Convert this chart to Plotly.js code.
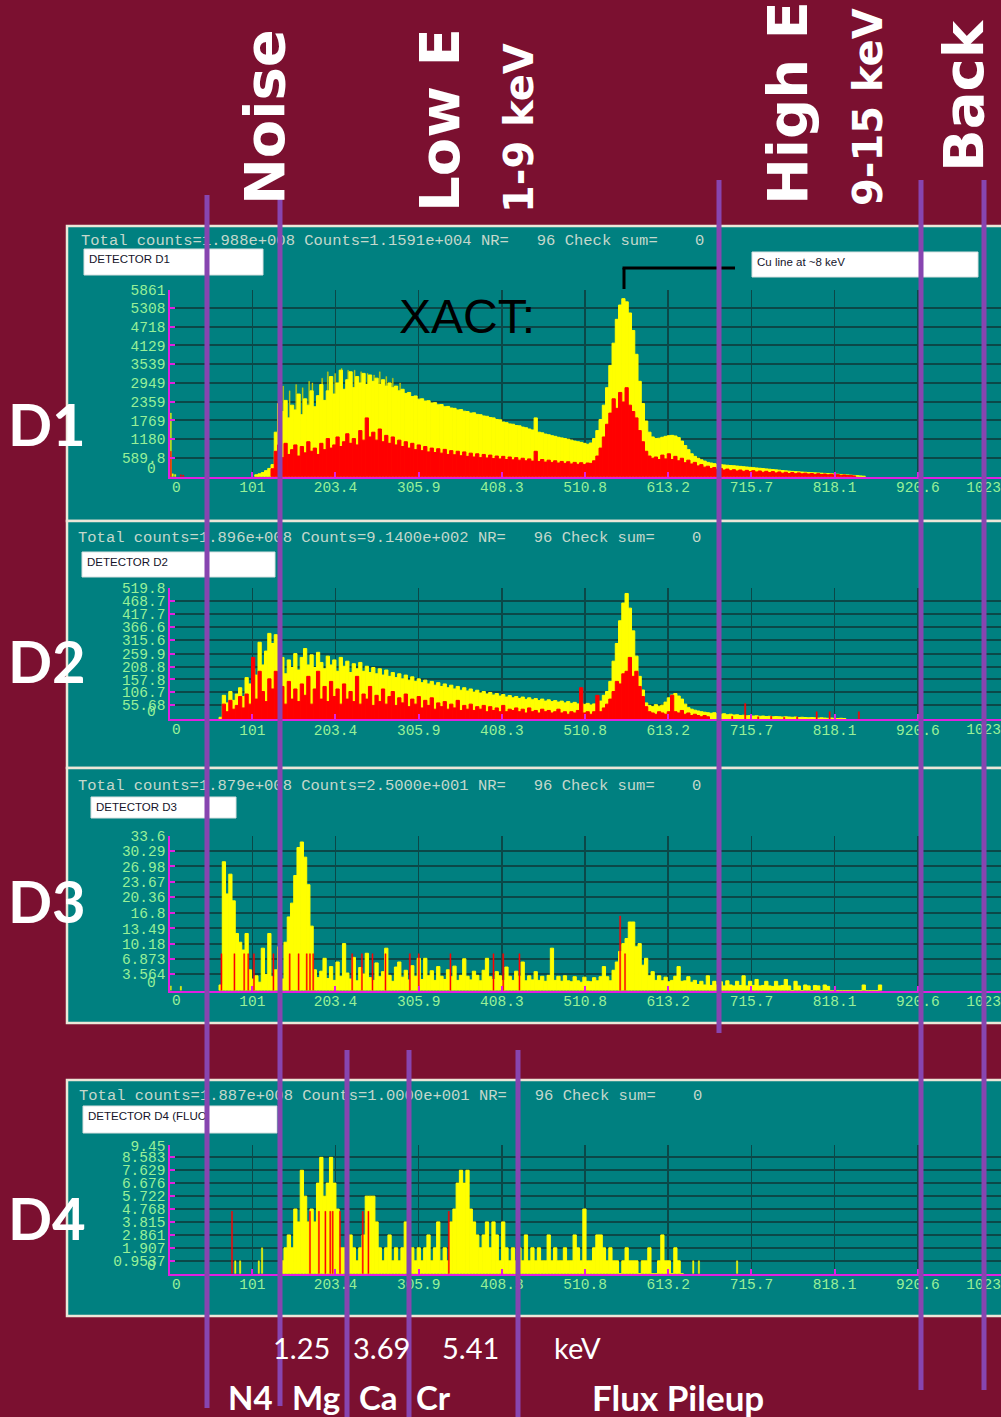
<!DOCTYPE html>
<html>
<head>
<meta charset="utf-8">
<script src="https://cdn.plot.ly/plotly-3.0.1.min.js"></script>
<style>
  html, body { margin: 0; padding: 0; background: #7b1030; }
  #chart { width: 1001px; height: 1417px; }
</style>
</head>
<body>
<div id="chart"></div>
<script>
// ---------------- Spectrum data (counts per channel bin) ----------------
const BIN = 4; // channels per histogram bin

// Detector D1
const d1YellowStart = 104;
const d1Yellow = [60,90,130,190,260,380,1400,2300,2050,2400,1850,2250,2100,2600,1950,2450,2250,2700,2200,2550,
  2900,2400,2700,3150,2600,2950,3350,2750,3050,3300,2800,3150,2950,3250,2900,3200,3000,3100,2900,3050,
  2850,2950,2800,2850,2700,2750,2620,2650,2520,2540,2440,2450,2380,2390,2320,2330,2260,2270,2200,2210,
  2160,2150,2100,2110,2060,2050,2000,2010,1960,1950,1910,1900,1860,1850,1800,1790,1720,1700,1660,1650,
  1610,1600,1560,1540,1500,1470,1850,1400,1380,1340,1320,1290,1270,1240,1220,1200,1180,1150,1120,1100,
  1080,1050,1020,1060,1200,1450,1800,2250,2800,3500,4200,4950,5400,5600,5500,5150,4600,3850,3000,2300,
  1750,1400,1250,1200,1210,1240,1270,1290,1300,1280,1230,1120,980,850,720,640,580,530,490,450,
  430,410,390,380,370,360,350,345,335,325,315,305,295,285,275,265,255,245,235,225,
  215,205,195,185,175,168,160,152,146,140,134,128,122,116,110,104,98,92,86,78,
  70,62,55,48,40,32,24,16];
// single-channel spikes standing above the binned envelope
const d1SpikeCh = [139, 147, 155, 163, 171, 175, 187, 194, 203, 211, 219, 227, 235, 243, 251, 258, 266, 274, 283];
const d1SpikeVal = [2850, 2700, 2900, 2800, 3000, 2950, 3100, 3300, 3250, 3400, 3350, 3350, 3300, 3250, 3200, 3300, 3150, 3100, 2950];
const d1RedStart = 124;
const d1Red = [250,800,1000,600,1050,700,850,1000,650,950,750,1100,800,900,700,1050,850,1200,900,1000,
  1250,950,1100,1350,1050,1200,1000,1450,1150,1850,1250,1400,1150,1500,1100,1300,1050,1250,1000,1150,
  950,1100,900,1050,850,1000,820,950,780,900,760,880,740,860,700,820,690,800,660,780,
  640,740,620,720,600,700,590,680,570,650,560,640,540,620,530,600,520,580,500,560,
  490,800,480,540,460,520,450,500,430,480,420,470,400,450,390,440,380,430,420,500,
  650,900,1250,1650,2000,2450,2150,2650,2350,2800,2250,2050,1850,1450,1100,800,650,580,620,540,
  680,560,720,540,640,500,580,440,520,400,450,340,380,300,330,260,290,230,260,210,
  240,190,220,180,210,170,200,160,190,150,180,140,170,130,160,120,150,110,140,100,
  130,95,120,90,110,85,100,75,95,70,85,60,75,55,65,45,55,35,40,25];
const d1YellowLowCh = [0.5, 3, 6];
const d1YellowLowVal = [2000, 90, 70];
const d1RedLowCh = [0.5, 13, 16];
const d1RedLowVal = [800, 60, 50];

// Detector D2
const d2YellowStart = 60;
const d2Yellow = [8,95,65,110,75,100,125,90,165,140,200,175,305,215,270,340,300,335,200,245,
  180,235,205,260,195,245,280,215,255,205,265,225,200,250,215,235,190,245,210,230,
  185,220,200,225,190,210,185,205,180,200,175,195,170,185,165,180,160,175,155,168,
  150,160,145,155,140,150,135,145,130,140,125,135,120,130,115,125,112,120,108,115,
  104,110,100,106,96,102,92,98,88,94,85,90,82,88,79,85,77,82,74,80,
  72,77,70,74,68,72,65,70,63,67,61,65,59,63,57,61,58,72,95,110,
  150,230,300,390,460,498,440,350,250,170,116,65,55,50,58,52,56,68,85,96,
  102,92,80,60,46,40,36,33,30,28,26,24,26,22,20,22,18,20,17,18,
  15,16,14,15,13,14,12,13,11,12,10,11,10,9,10,9,8,9,7,8,
  7,6,7,6,5,6,5,4,5,4,3,4,3];
const d2RedStart = 64;
const d2Red = [60,30,75,40,55,90,45,100,60,245,80,190,110,70,160,120,190,90,130,60,
  150,80,120,70,140,95,170,60,120,190,80,130,70,150,90,120,60,140,80,110,
  70,170,60,100,80,130,55,95,70,120,60,90,110,55,85,65,100,50,80,60,
  90,45,75,55,85,40,65,50,70,40,60,45,75,35,55,40,60,35,50,40,
  55,30,50,35,45,30,55,30,40,35,45,30,40,25,45,30,35,25,40,30,
  35,25,30,40,25,30,20,30,25,35,125,25,30,20,30,95,30,45,60,80,
  110,150,140,180,190,245,170,190,130,90,50,30,25,20,30,25,20,30,95,30,
  25,35,20,25,15,20,15,10,15,10];
const d2RedSparseCh = [676, 692, 708, 724, 740, 756, 772, 796, 812, 848];
const d2RedSparseVal = [15, 12, 63, 10, 12, 8, 10, 30, 30, 30];

// Detector D3
const d3YellowStart = 60;
const d3Yellow = [1.2,28,21,25.3,19.5,12.4,10.5,8.8,12.4,4.5,2.5,3.2,1.8,9.2,3.5,12.4,3,4.5,9.5,2.5,
  10.5,16,19,25,31.1,32.3,29,23,14,4.5,2.8,4.2,7,2.6,5.2,2.2,6.2,3.1,10.2,3.8,
  2.5,7.2,2.1,5,3.6,8.1,2.8,2.2,6,3,4.1,9.2,3.3,2,5.1,6.2,2.9,4.4,2.3,5.4,
  3.1,7,2.4,7,3.2,4.3,2.2,5.2,3.1,2.4,4.5,3,5.3,2.2,3.3,6.9,3.1,2.3,4.2,3.3,
  2.1,4.4,7,3,2.4,4.1,3.2,2.2,5.1,3.1,2.2,4.2,3.1,6.2,2.1,3.2,2.3,4.1,2.2,3.1,
  2,3.3,9.2,2.2,3.1,2,3.2,2.1,1.9,3,2.1,1.8,2.9,2,1.9,2.8,2.1,3,5.2,3,
  2.1,4.4,6.2,8.5,10.2,11.3,14.9,14.9,9.5,10.2,5.5,7,3.2,4.1,2.2,3.2,2.1,2.9,1.9,2.2,
  3.1,5.2,2,2.1,3,1.8,2.2,1.3,2,1.2,3.2,1.1,2,1.2,1.9,1,2.1,1.2,1,2,
  1.1,3.2,1,2,1.1,2.4,1,1.1,2,1,0.9,2,1,1.1,2.4,1,0,2,1,0,
  1.2,1,0,1.1,1,0,1.2,0.9,0,0,0,0,0,0,0,0,0,0,1.2,0,
  0,0,0,1.2];
const d3YellowSparseCh = [0.5, 13];
const d3YellowSparseVal = [1.0, 0.9];
const d3RedCh = [63,79,91,96,103,127,147,158,168,172,176,224,236,249,265,295,306,345,398,410,430,554,560];
const d3RedVal = [8,8,8,8,8,8,8,8,8,8,8,8,8,8,8,8,8,8,8,8,8,16.2,8];

// Detector D4 (fluorescence)
const d4YellowStart = 136;
const d4Yellow = [0.95,1.91,2.86,1.91,4.77,3.82,7.63,5.72,3.82,4.77,3.82,6.68,8.58,5.72,6.68,8.58,6.68,4.77,1.91,1.91,
  0.95,2.86,1.91,0.95,1.91,2.86,5.72,5.72,5.72,3.82,1.91,0.95,1.91,2.86,0.95,1.91,0.95,1.91,3.82,0.95,
  1.91,0.95,1.91,0.95,1.91,2.86,0.95,1.91,3.82,0.95,1.91,0.95,3.82,4.77,6.68,7.63,6.68,7.63,4.77,3.82,
  2.86,1.91,2.86,3.82,1.91,3.82,2.86,0.95,3.82,1.91,0.95,1.91,0.95,1.91,0.95,2.86,0.95,1.91,0.95,1.91,
  0.95,0.95,2.86,0.95,1.91,0.95,0.95,1.91,0.95,0.95,2.86,1.91,0.95,4.77,0.95,0.95,1.91,2.86,2.86,1.91,
  0.95,1.91,0.95,0.95,0,0.95,1.91,0.95,0.95,0.95,0,0.95,0.95,1.91,0,0,0.95,2.86,0.95,0.95,
  0,1.91,0.95,0];
const d4YellowSparseCh = [80, 86, 109, 113, 644, 651, 698];
const d4YellowSparseVal = [0.95, 0.95, 0.95, 1.91, 0.95, 0.95, 0.95];
const d4RedCh = [76, 172, 183, 191, 197, 200, 209, 237, 244, 343];
const d4RedVal = [4.6, 4.6, 4.6, 4.6, 4.6, 4.6, 4.6, 4.6, 4.6, 4.6];

// ---------------- Axis labels and texts ----------------
const xTicks = [0, 101, 203.4, 305.9, 408.3, 510.8, 613.2, 715.7, 818.1, 920.6, 1023];
const d1YTicks = [589.8, 1180, 1769, 2359, 2949, 3539, 4129, 4718, 5308, 5861];
const d2YTicks = [55.68, 106.7, 157.8, 208.8, 259.9, 315.6, 366.6, 417.7, 468.7, 519.8];
const d3YTicks = [3.564, 6.873, 10.18, 13.49, 16.8, 20.36, 23.67, 26.98, 30.29, 33.6];
const d4YTicks = [0.9537, 1.907, 2.861, 3.815, 4.768, 5.722, 6.676, 7.629, 8.583, 9.45];

const headers = [
  "Total counts=1.988e+008 Counts=1.1591e+004 NR=   96 Check sum=    0",
  "Total counts=1.896e+008 Counts=9.1400e+002 NR=   96 Check sum=    0",
  "Total counts=1.879e+008 Counts=2.5000e+001 NR=   96 Check sum=    0",
  "Total counts=1.887e+008 Counts=1.0000e+001 NR=   96 Check sum=    0"
];
const detectorNames = ["DETECTOR D1", "DETECTOR D2", "DETECTOR D3", "DETECTOR D4 (FLUO"];
const panelNames = ["D1", "D2", "D3", "D4"];

// ---------------- Geometry helpers ----------------
const W = 1001, H = 1417;
const px = v => v / W;
const py = v => 1 - v / H;

const MAROON = '#7b1030', TEAL = '#008080', CREAM = '#ece6d8';
const GRID = '#0b4848', AXIS = '#e020e0', TICKTXT = '#98f098';
const HEADTXT = '#c4d8cc', PURPLE = '#8745b0';
const YELLOW = '#ffff00', RED = '#ff0000', OLIVE = '#d4d400';
const MONO = 'Liberation Mono, Courier New, monospace';

function centers(start, n) {
  const a = [];
  for (let i = 0; i < n; i++) a.push(start + BIN * i + BIN / 2);
  return a;
}

function barTrace(x, y, color, width, k, edge) {
  return {
    type: 'bar', x: x, y: y, width: width,
    xaxis: 'x' + (k === 1 ? '' : k), yaxis: 'y' + (k === 1 ? '' : k),
    marker: { color: color, line: { color: color, width: edge } },
    hoverinfo: 'skip', showlegend: false
  };
}

const traces = [
  barTrace(d1SpikeCh, d1SpikeVal, OLIVE, 1.2, 1, 0.3),
  barTrace(centers(d1YellowStart, d1Yellow.length), d1Yellow, YELLOW, BIN, 1, 1),
  barTrace(d1YellowLowCh, d1YellowLowVal, YELLOW, 1.5, 1, 0.4),
  barTrace(centers(d1RedStart, d1Red.length), d1Red, RED, BIN, 1, 1),
  barTrace(d1RedLowCh, d1RedLowVal, RED, 1.5, 1, 0.4),

  barTrace(centers(d2YellowStart, d2Yellow.length), d2Yellow, YELLOW, BIN, 2, 1),
  barTrace(centers(d2RedStart, d2Red.length), d2Red, RED, BIN, 2, 1),
  barTrace(d2RedSparseCh, d2RedSparseVal, RED, 1.6, 2, 0.4),

  barTrace(centers(d3YellowStart, d3Yellow.length), d3Yellow, YELLOW, BIN, 3, 1),
  barTrace(d3YellowSparseCh, d3YellowSparseVal, YELLOW, 1.5, 3, 0.4),
  barTrace(d3RedCh, d3RedVal, RED, 1.4, 3, 0.4),

  barTrace(centers(d4YellowStart, d4Yellow.length), d4Yellow, YELLOW, BIN, 4, 1),
  barTrace(d4YellowSparseCh, d4YellowSparseVal, YELLOW, 1.6, 4, 0.4),
  barTrace(d4RedCh, d4RedVal, RED, 1.4, 4, 0.4)
];

// plot areas in pixels (top / bottom of the y range) and panel boxes
const plots = [
  { top: 290,    bottom: 476.7,  ymax: 5861,  ticks: d1YTicks, box: [226, 521],  head: 240,  hx: 78,
    det: [84, 249, 263, 275], label: 423 },
  { top: 587.7,  bottom: 719.3,  ymax: 519.8, ticks: d2YTicks, box: [521, 768],  head: 537,  hx: 75,
    det: [82, 552, 275, 577], label: 660 },
  { top: 835.7,  bottom: 990.5,  ymax: 33.6,  ticks: d3YTicks, box: [768, 1023], head: 785,  hx: 75,
    det: [91, 797, 236, 818], label: 900 },
  { top: 1145.3, bottom: 1273.7, ymax: 9.45,  ticks: d4YTicks, box: [1080, 1316], head: 1095, hx: 76,
    det: [83, 1106, 277, 1133], label: 1217 }
];

const layout = {
  width: W, height: H, autosize: false,
  margin: { l: 0, r: 0, t: 0, b: 0, pad: 0 },
  paper_bgcolor: MAROON, plot_bgcolor: TEAL,
  barmode: 'overlay', bargap: 0, showlegend: false,
  shapes: [], annotations: []
};

const xTickText = xTicks.map((v, i) => (i === 0 || i === xTicks.length - 1) ? '' : String(v));
const nb = s => s.replace(/ /g, '\u00a0');

plots.forEach((p, i) => {
  const k = i + 1, s = k === 1 ? '' : String(k);
  layout['xaxis' + s] = {
    domain: [px(170.3), 1], range: [0, 1023], anchor: 'y' + s,
    tickmode: 'array', tickvals: xTicks, ticktext: xTickText,
    ticks: 'inside', ticklen: 5, tickwidth: 2, tickcolor: AXIS,
    ticklabelstandoff: -4,
    showline: true, linecolor: AXIS, linewidth: 2,
    showgrid: true, gridcolor: GRID, gridwidth: 1.5, zeroline: false,
    tickfont: { family: MONO, size: 14.5, color: TICKTXT },
    fixedrange: true
  };
  layout['yaxis' + s] = {
    domain: [py(p.bottom), py(p.top)], range: [0, p.ymax * 1.002], anchor: 'x' + s,
    tickmode: 'array', tickvals: p.ticks, ticktext: p.ticks.map(String),
    ticks: 'inside', ticklen: 5, tickwidth: 2, tickcolor: AXIS,
    showline: true, linecolor: AXIS, linewidth: 2,
    showgrid: true, gridcolor: GRID, gridwidth: 2, zeroline: false,
    tickfont: { family: MONO, size: 14.5, color: TICKTXT },
    fixedrange: true
  };

  // teal panel
  layout.shapes.push({
    type: 'rect', xref: 'paper', yref: 'paper', layer: 'below',
    x0: px(67), x1: px(1003), y0: py(p.box[1]), y1: py(p.box[0]),
    fillcolor: TEAL, line: { color: CREAM, width: 2.5 }
  });
  // header line
  layout.shapes.push({
    type: 'rect', xref: 'paper', yref: 'paper', layer: 'below',
    x0: px(p.hx), x1: px(720), y0: py(p.head + 7), y1: py(p.head - 11),
    fillcolor: 'rgba(0,0,0,0)', line: { width: 0 },
    label: { text: nb(headers[i]), textposition: 'middle left', padding: 0,
             font: { family: MONO, size: 15.5, color: HEADTXT } }
  });
  // detector name box
  layout.shapes.push({
    type: 'rect', xref: 'paper', yref: 'paper', layer: 'below',
    x0: px(p.det[0]), x1: px(p.det[2]), y0: py(p.det[3]), y1: py(p.det[1]),
    fillcolor: '#ffffff', line: { color: '#d8e0e0', width: 1 },
    label: { text: detectorNames[i], textposition: 'top left', padding: 2,
             font: { family: 'Liberation Sans, Arial, sans-serif', size: 11.5, color: '#14142a' } }
  });
  // right-hand end label of the channel axis
  layout.shapes.push({
    type: 'rect', xref: 'paper', yref: 'paper', layer: 'below',
    x0: px(960), x1: px(1004), y0: py(p.bottom + 16), y1: py(p.bottom + 1),
    fillcolor: 'rgba(0,0,0,0)', line: { width: 0 },
    label: { text: '1023', textposition: 'middle right', padding: 0,
             font: { family: MONO, size: 14.5, color: TICKTXT } }
  });
  // "0" labels of both axes
  layout.annotations.push({
    xref: 'x' + s, yref: 'paper', x: 0, y: py(p.bottom + 1), xanchor: 'left', yanchor: 'top',
    xshift: 0, text: '0', showarrow: false,
    font: { family: MONO, size: 14.5, color: TICKTXT }
  });
  layout.annotations.push({
    xref: 'paper', yref: 'paper', x: px(158), y: py(p.bottom - 7.5), xanchor: 'right', yanchor: 'middle',
    text: '0', showarrow: false,
    font: { family: MONO, size: 14.5, color: TICKTXT }
  });
  // detector tag on the left
  layout.annotations.push({
    xref: 'paper', yref: 'paper', x: px(47), y: py(p.label), xanchor: 'center', yanchor: 'middle',
    text: '<b>' + panelNames[i] + '</b>', showarrow: false,
    font: { family: 'Lato, Open Sans, sans-serif', size: 58, color: '#ffffff' }
  });
});

// Cu line box and its pointer
layout.shapes.push({
  type: 'rect', xref: 'paper', yref: 'paper', layer: 'below',
  x0: px(752), x1: px(978), y0: py(277), y1: py(252),
  fillcolor: '#ffffff', line: { color: '#d8e0e0', width: 1 },
  label: { text: 'Cu line at ~8 keV', textposition: 'top left', padding: 2,
           font: { family: 'Liberation Sans, Arial, sans-serif', size: 11.5, color: '#14142a' } }
});
layout.shapes.push({ type: 'line', xref: 'paper', yref: 'paper', layer: 'above',
  x0: px(624), x1: px(624), y0: py(289), y1: py(268), line: { color: '#000000', width: 3 } });
layout.shapes.push({ type: 'line', xref: 'paper', yref: 'paper', layer: 'above',
  x0: px(622.5), x1: px(735), y0: py(268), y1: py(268), line: { color: '#000000', width: 3 } });

// purple region markers
const markers = [
  [207, 195, 1408], [280, 197, 1406], [347, 1050, 1417], [409, 1050, 1417],
  [518, 1050, 1417], [719, 180, 1033], [921, 180, 1390], [984, 180, 1390]
];
markers.forEach(m => layout.shapes.push({
  type: 'line', xref: 'paper', yref: 'paper', layer: 'above',
  x0: px(m[0]), x1: px(m[0]), y0: py(m[2]), y1: py(m[1]),
  line: { color: PURPLE, width: 5 }
}));

// region titles
const vert = (t, x, y, size) => ({
  xref: 'paper', yref: 'paper', x: px(x), y: py(y), xanchor: 'center', yanchor: 'middle',
  text: '<b>' + t + '</b>', textangle: -90, showarrow: false,
  font: { family: 'DejaVu Sans, Verdana, sans-serif', size: size, color: '#ffffff' }
});
layout.annotations.push(vert('Noise', 265, 117, 56));
layout.annotations.push(vert('Low E', 439, 120, 56));
layout.annotations.push(vert('1-9 keV', 519, 128, 40));
layout.annotations.push(vert('High E', 787, 103, 56));
layout.annotations.push(vert('9-15 keV', 868, 107, 40));
layout.annotations.push(vert('Back', 963, 96, 56));

layout.annotations.push({
  xref: 'paper', yref: 'paper', x: px(467), y: py(316), xanchor: 'center', yanchor: 'middle',
  text: 'XACT:', showarrow: false,
  font: { family: 'Liberation Sans, Arial, sans-serif', size: 48, color: '#000000' }
});

// energy scale and element names along the bottom
const bottomText = (t, x, y, size, bold) => ({
  xref: 'paper', yref: 'paper', x: px(x), y: py(y), xanchor: 'center', yanchor: 'middle',
  text: bold ? '<b>' + t + '</b>' : t, showarrow: false,
  font: { family: 'Lato, Open Sans, sans-serif', size: size, color: '#ffffff' }
});
[['1.25', 301], ['3.69', 381], ['5.41', 470], ['keV', 577]].forEach(e =>
  layout.annotations.push(bottomText(e[0], e[1], 1347, 29, false)));
[['N4', 250], ['Mg', 316], ['Ca', 378], ['Cr', 433]].forEach(e =>
  layout.annotations.push(bottomText(e[0], e[1], 1397, 33, true)));
layout.annotations.push(bottomText('Flux Pileup', 678, 1397, 35, true));

Plotly.newPlot('chart', traces, layout, { staticPlot: true, displayModeBar: false });
</script>
</body>
</html>
